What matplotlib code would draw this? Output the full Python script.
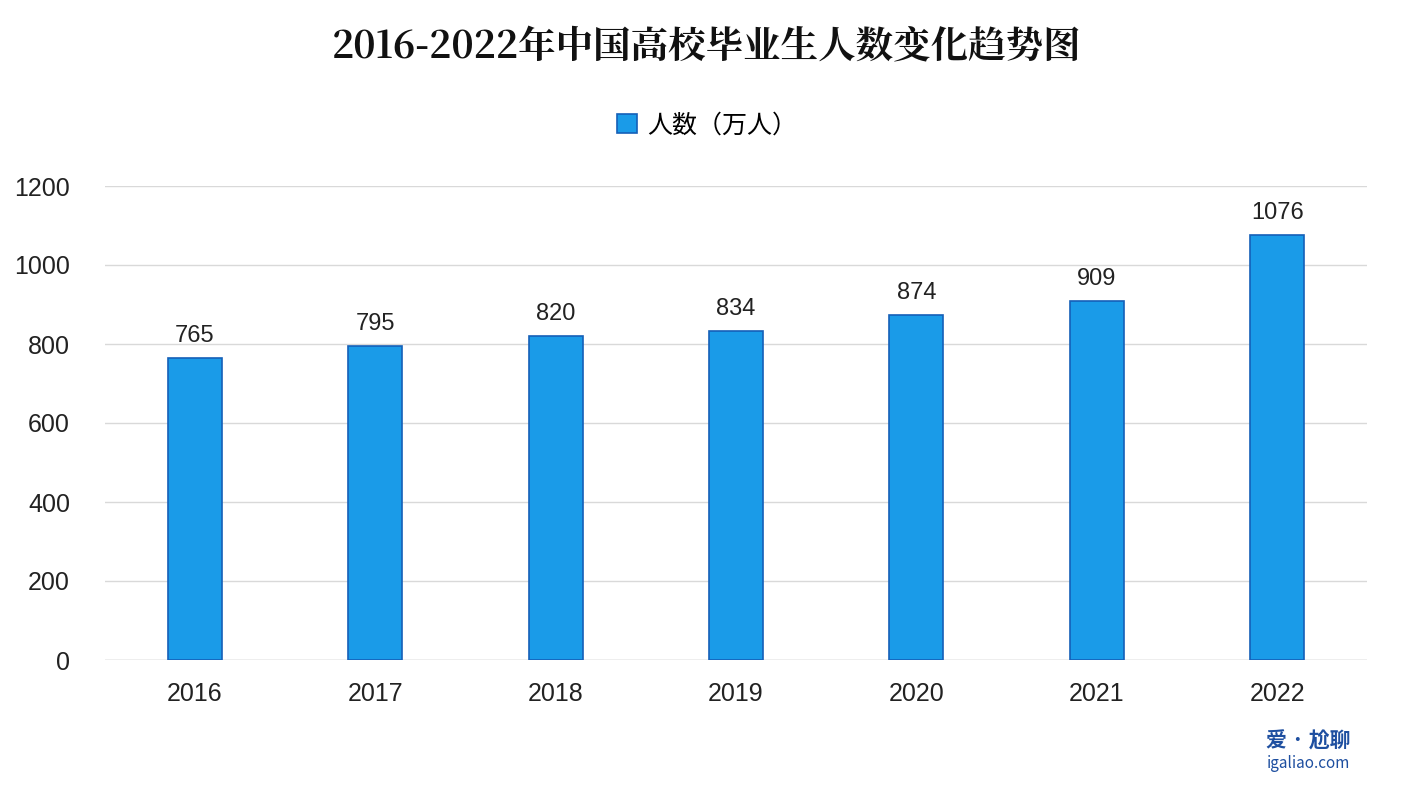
import matplotlib
matplotlib.use("Agg")
import matplotlib.pyplot as plt
from matplotlib import font_manager as fm

# register every CJK font file found, then pick sans / serif by name
for f in fm.findSystemFonts():
    if "CJK" in f:
        try:
            fm.fontManager.addfont(f)
        except Exception:
            pass
names = sorted({f.name for f in fm.fontManager.ttflist if "CJK" in f.name})
sans = next((n for n in names if "Sans" in n and "SC" in n), None) or \
       next((n for n in names if "Sans" in n), "Noto Sans CJK SC")
serif = next((n for n in names if "Serif" in n and "SC" in n), None) or \
        next((n for n in names if "Serif" in n), sans)
plt.rcParams["font.family"] = [sans, "DejaVu Sans"]
num_font = "Liberation Sans"

years = ["2016", "2017", "2018", "2019", "2020", "2021", "2022"]
graduates = [765, 795, 820, 834, 874, 909, 1076]
y_ticks = [0, 200, 400, 600, 800, 1000, 1200]

fig = plt.figure(figsize=(14.14, 8), dpi=100)
ax = fig.add_axes([0.074, 0.175, 0.893, 0.5925])

x = range(len(years))
bars = ax.bar(x, graduates, width=0.3, color="#1a9be8", edgecolor="#1560b8",
              linewidth=1.2, label="人数（万人）", zorder=3)
for xi, v in zip(x, graduates):
    ax.text(xi, v + 28, str(v), ha="center", va="bottom", fontsize=17,
            color="#222", family=num_font)

ax.set_xlim(-0.5, len(years) - 0.5)
ax.set_ylim(0, 1200)
ax.set_yticks(y_ticks)
ax.set_xticks(list(x))
ax.set_xticklabels(years)
ax.tick_params(axis="both", length=0, labelsize=18, colors="#222")
ax.tick_params(axis="x", pad=16)
ax.tick_params(axis="y", pad=25)
for lab in ax.get_xticklabels() + ax.get_yticklabels():
    lab.set_family(num_font)
ax.grid(axis="y", color="#d9d9d9", lw=1, zorder=0)
for s in ax.spines.values():
    s.set_visible(False)
ax.axhline(0, color="#cccccc", lw=1, zorder=2)

fig.text(0.5, 0.94, "2016-2022年中国高校毕业生人数变化趋势图", ha="center", va="center",
         fontsize=27, fontweight="bold", color="#111", family=serif)
fig.legend(handles=[bars], loc="center", bbox_to_anchor=(0.5, 0.843), frameon=False,
           fontsize=18, handlelength=0.8, handleheight=0.8, handletextpad=0.4)
fig.text(0.925, 0.065, "爱 · 尬聊", ha="center", fontsize=15, fontweight="bold", color="#1e4fa0")
fig.text(0.925, 0.04, "igaliao.com", ha="center", fontsize=11, color="#1e4fa0")

fig.savefig("out.png", dpi=100, facecolor="white")
